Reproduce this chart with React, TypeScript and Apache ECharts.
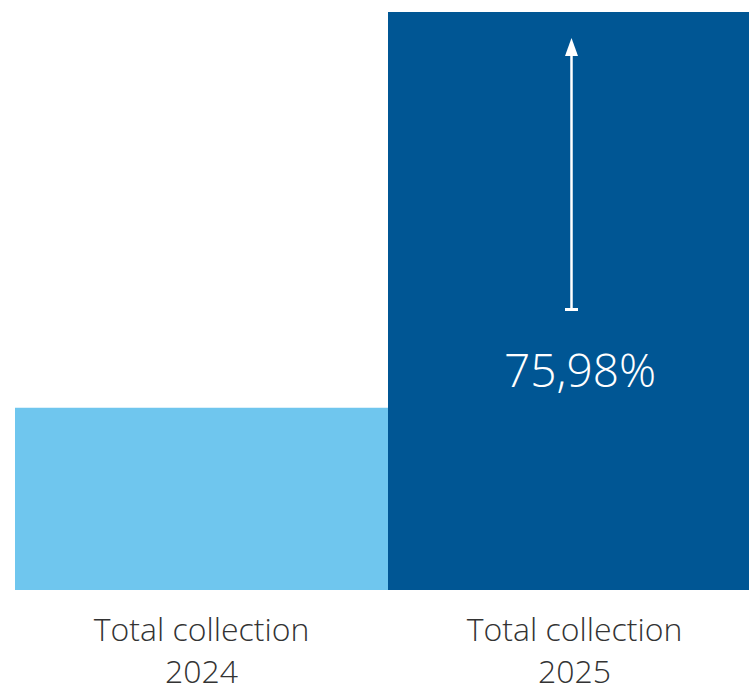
import React, { useEffect, useRef } from "react";
import * as echarts from "echarts";

const categories = ["Total collection\n2024", "Total collection\n2025"];
const values = [100, 175.98];
const barColors = ["#6FC6EE", "#005694"];
const axisMin = 65;

export default function App() {
  const ref = useRef<HTMLDivElement>(null);
  useEffect(() => {
    document.body.style.margin = "0";
    document.body.style.overflow = "hidden";
    document.documentElement.style.overflow = "hidden";
    if (!ref.current) return;
    const chart = echarts.init(ref.current, null, { renderer: "svg" });
    const growth = ((values[1] / values[0] - 1) * 100).toFixed(2).replace(".", ",") + "%";
    chart.setOption({
      animation: false,
      grid: { left: 15, right: 0, top: 12, bottom: 97, outerBoundsMode: "none", containLabel: false },
      xAxis: {
        type: "category",
        data: categories,
        axisLine: { show: false },
        axisTick: { show: false },
        axisLabel: {
          margin: 17,
          fontFamily: "Open Sans",
          fontWeight: 300,
          fontSize: 32,
          lineHeight: 42,
          color: "#333333",
        },
      },
      yAxis: {
        type: "value",
        min: axisMin,
        max: values[1],
        show: false,
        splitLine: { show: false },
      },
      series: [
        {
          type: "bar",
          barCategoryGap: 0,
          data: values.map((v, i) => ({
            value: v,
            itemStyle: { color: barColors[i] },
            label:
              i === 1
                ? {
                    show: true,
                    formatter: growth,
                    position: [192, 357],
                    align: "center",
                    verticalAlign: "middle",
                    color: "#ffffff",
                    fontFamily: "Open Sans",
                    fontWeight: 300,
                    fontSize: 46,
                  }
                : { show: false },
          })),
        },
      ],
      graphic: [
        {
          type: "line",
          z: 100,
          shape: { x1: 571.5, y1: 309, x2: 571.5, y2: 54 },
          style: { stroke: "#ffffff", lineWidth: 2.5 },
        },
        {
          type: "line",
          z: 100,
          shape: { x1: 565, y1: 309.5, x2: 578, y2: 309.5 },
          style: { stroke: "#ffffff", lineWidth: 3 },
        },
        {
          type: "polygon",
          z: 100,
          shape: { points: [[571.5, 38], [565, 56], [578, 56]] },
          style: { fill: "#ffffff" },
        },
      ],
    });
    return () => chart.dispose();
  }, []);
  return (
    <div style={{ width: 749, height: 687, overflow: "hidden" }}>
      <div ref={ref} style={{ width: 761, height: 687 }} />
    </div>
  );
}
